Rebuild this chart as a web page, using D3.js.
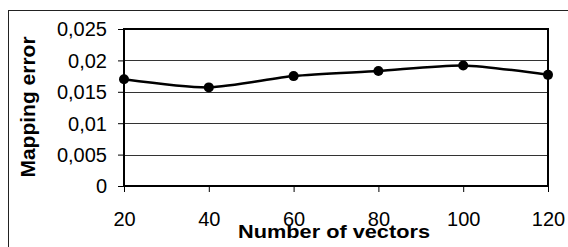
<!DOCTYPE html>
<html>
<head>
<meta charset="utf-8">
<script src="https://cdn.jsdelivr.net/npm/d3@7"></script>
<style>
  body { margin: 0; background: #fff; }
  svg { display: block; font-family: "Liberation Sans", Arial, sans-serif; }
</style>
</head>
<body>
<svg id="chart" width="568" height="247"></svg>
<script>
// data
const vectors = [20, 40, 60, 80, 100, 120];
const mappingError = [0.0170, 0.0157, 0.0175, 0.0183, 0.0192, 0.0177];
const yTicks = [0, 0.005, 0.01, 0.015, 0.02, 0.025];
const xTicks = [20, 40, 60, 80, 100, 120];

const svg = d3.select("#chart");
const plot = { left: 124, right: 548, top: 29, bottom: 186 };

// outer chart border (runs off the right and bottom edge)
svg.append("rect")
    .attr("x", 8.5).attr("y", 10.5)
    .attr("width", 600).attr("height", 300)
    .attr("fill", "none")
    .attr("stroke", "#222")
    .attr("stroke-width", 1);

const x = d3.scaleLinear().domain([20, 120]).range([plot.left, plot.right]);
const y = d3.scaleLinear().domain([0, 0.025]).range([plot.bottom, plot.top]);

const fmt = d => String(d).replace(".", ",");

// gridlines
svg.append("g")
    .selectAll("line")
    .data(yTicks.slice(1, -1))
    .join("line")
    .attr("x1", plot.left).attr("x2", plot.right)
    .attr("y1", d => Math.round(y(d)) + 0.5).attr("y2", d => Math.round(y(d)) + 0.5)
    .attr("stroke", "#333")
    .attr("stroke-width", 1);

// y axis
const yAxis = svg.append("g")
    .attr("transform", `translate(${plot.left},0)`)
    .call(d3.axisLeft(y).tickValues(yTicks).tickFormat(fmt).tickSize(6).tickPadding(11));
yAxis.select(".domain").remove();
yAxis.selectAll(".tick line").attr("stroke", "#000");
yAxis.selectAll(".tick text")
    .attr("font-size", 20)
    .attr("fill", "#000")
    .attr("font-family", "Liberation Sans, Arial, sans-serif")
    .attr("dy", "0.34em");

// x axis
const xAxis = svg.append("g")
    .attr("transform", `translate(0,${plot.bottom})`)
    .call(d3.axisBottom(x).tickValues(xTicks).tickSize(6).tickPadding(20));
xAxis.select(".domain").remove();
xAxis.selectAll(".tick line").attr("stroke", "#000");
xAxis.selectAll(".tick text")
    .attr("font-size", 20)
    .attr("fill", "#000")
    .attr("font-family", "Liberation Sans, Arial, sans-serif");

// plot area frame
svg.append("rect")
    .attr("x", plot.left).attr("y", plot.top)
    .attr("width", plot.right - plot.left)
    .attr("height", plot.bottom - plot.top)
    .attr("fill", "none")
    .attr("stroke", "#000")
    .attr("stroke-width", 2);

// smoothed line + markers
const points = vectors.map((v, i) => [v, mappingError[i]]);
const line = d3.line()
    .x(d => x(d[0]))
    .y(d => y(d[1]))
    .curve(d3.curveCardinal.tension(0.3));

svg.append("path")
    .datum(points)
    .attr("d", line)
    .attr("fill", "none")
    .attr("stroke", "#000")
    .attr("stroke-width", 2.5);

svg.append("g")
    .selectAll("circle")
    .data(points)
    .join("circle")
    .attr("cx", d => x(d[0]))
    .attr("cy", d => y(d[1]))
    .attr("r", 5)
    .attr("fill", "#000");

// axis titles
svg.append("text")
    .attr("x", 334).attr("y", 238)
    .attr("text-anchor", "middle")
    .attr("font-size", 18)
    .attr("font-weight", "bold")
    .attr("textLength", 192)
    .attr("lengthAdjust", "spacingAndGlyphs")
    .text("Number of vectors");

svg.append("text")
    .attr("transform", "translate(35,107) rotate(-90)")
    .attr("text-anchor", "middle")
    .attr("font-size", 21)
    .attr("font-weight", "bold")
    .text("Mapping error");
</script>
</body>
</html>
